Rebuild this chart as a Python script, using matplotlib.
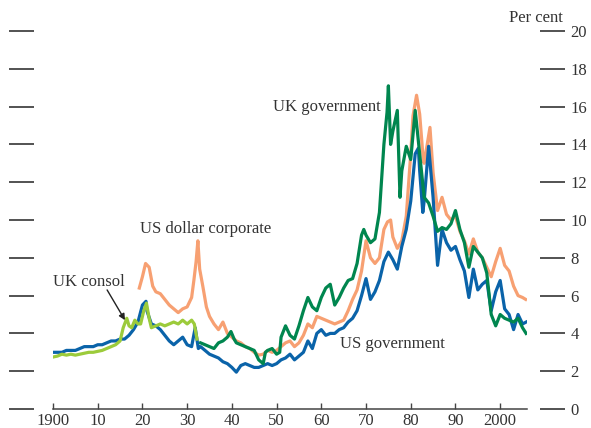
import matplotlib
matplotlib.use("Agg")
import matplotlib.pyplot as plt

# ---- data (per cent) ----
us_gov_year = [1900, 1901, 1902, 1903, 1904, 1905, 1906, 1907, 1908, 1909,
               1910, 1911, 1912, 1913, 1914, 1915, 1916, 1917, 1918, 1919,
               1920, 1920.8, 1921, 1922, 1923, 1924, 1925, 1926, 1927, 1928,
               1929, 1930, 1931, 1931.8, 1932.5, 1933, 1934, 1935, 1936, 1937,
               1938, 1939, 1940, 1941, 1942, 1943, 1944, 1945, 1946, 1947,
               1948, 1949, 1950, 1951, 1952, 1953, 1954, 1955, 1956, 1957,
               1958, 1959, 1960, 1961, 1962, 1963, 1964, 1965, 1966, 1967,
               1968, 1969, 1970, 1971, 1972, 1973, 1974, 1975, 1976, 1977,
               1978, 1979, 1980, 1981, 1981.7, 1982, 1982.7, 1983, 1984, 1985,
               1986, 1987, 1988, 1989, 1990, 1991, 1992, 1993, 1994, 1995,
               1996, 1997, 1998, 1999, 2000, 2001, 2002, 2003, 2004, 2005, 2005.8]
us_gov = [3.0, 3.0, 3.0, 3.1, 3.1, 3.1, 3.2, 3.3, 3.3, 3.3,
          3.4, 3.4, 3.5, 3.6, 3.6, 3.7, 3.7, 3.9, 4.2, 4.6,
          5.5, 5.7, 5.2, 4.5, 4.4, 4.2, 3.9, 3.6, 3.4, 3.6,
          3.8, 3.4, 3.3, 4.3, 3.2, 3.3, 3.1, 2.9, 2.8, 2.7,
          2.5, 2.4, 2.2, 1.95, 2.3, 2.4, 2.3, 2.2, 2.2, 2.3,
          2.4, 2.3, 2.4, 2.6, 2.7, 2.9, 2.6, 2.8, 3.0, 3.6,
          3.2, 4.0, 4.2, 3.9, 4.0, 4.0, 4.2, 4.3, 4.6, 4.8,
          5.2, 6.0, 6.9, 5.8, 6.2, 6.8, 7.8, 8.3, 7.9, 7.4,
          8.6, 9.5, 11.0, 13.5, 13.8, 12.6, 10.4, 11.0, 13.9, 11.2,
          7.6, 9.5, 8.8, 8.4, 8.6, 7.9, 7.3, 5.9, 7.4, 6.3,
          6.6, 6.8, 5.2, 6.2, 6.8, 5.3, 5.0, 4.2, 5.0, 4.5, 4.6]

uk_gov_year = [1933, 1934, 1935, 1936, 1937, 1938, 1939, 1939.8, 1940.5, 1941,
               1942, 1943, 1944, 1945, 1946, 1947, 1947.5, 1948, 1949, 1950,
               1950.7, 1951, 1952, 1953, 1954, 1955, 1956, 1957, 1958, 1959,
               1960, 1961, 1962, 1963, 1964, 1965, 1966, 1967, 1968, 1969,
               1969.5, 1970, 1971, 1972, 1973, 1974, 1974.7, 1975, 1975.5, 1976,
               1977, 1977.6, 1978, 1979, 1980, 1981, 1982, 1983, 1984, 1985,
               1986, 1987, 1988, 1989, 1990, 1991, 1992, 1993, 1994, 1995,
               1996, 1997, 1998, 1999, 2000, 2001, 2002, 2003, 2004, 2005, 2005.8]
uk_gov = [3.5, 3.4, 3.3, 3.2, 3.5, 3.6, 3.8, 4.1, 3.7, 3.5,
          3.4, 3.3, 3.2, 3.1, 2.6, 2.4, 3.0, 3.1, 3.2, 2.9,
          3.0, 3.8, 4.4, 3.9, 3.7, 4.4, 5.2, 5.9, 5.4, 5.2,
          5.9, 6.4, 6.6, 5.5, 5.9, 6.4, 6.8, 6.9, 7.7, 9.2,
          9.5, 9.2, 8.8, 9.0, 10.4, 14.0, 15.7, 17.1, 14.0, 14.7,
          15.8, 11.2, 12.6, 13.9, 13.2, 15.8, 13.5, 11.2, 10.9, 10.2,
          9.4, 9.6, 9.5, 9.8, 10.5, 9.5, 8.8, 7.5, 8.6, 8.3,
          8.0, 7.2, 5.0, 4.4, 5.0, 4.8, 4.7, 4.6, 4.8, 4.3, 4.0]

us_corp_year = [1919.3, 1920, 1920.7, 1921.5, 1922.3, 1923, 1924, 1925, 1926, 1927,
                1928, 1929, 1930, 1931, 1931.5, 1932, 1932.4, 1932.8, 1933.5, 1934.3,
                1935, 1936, 1937, 1938, 1939, 1940, 1941, 1942, 1943, 1944,
                1945, 1946, 1947, 1948, 1949, 1950, 1951, 1952, 1953, 1954,
                1955, 1956, 1957, 1958, 1959, 1960, 1961, 1962, 1963, 1964,
                1965, 1966, 1967, 1968, 1969, 1970, 1971, 1972, 1973, 1974,
                1974.8, 1975.5, 1976, 1977, 1978, 1979, 1980, 1980.5, 1981.3, 1982,
                1982.8, 1983, 1984.3, 1985, 1986, 1987, 1988, 1989, 1990, 1991,
                1992, 1993, 1994, 1995, 1996, 1997, 1998, 1999, 2000, 2001,
                2002, 2003, 2004, 2005, 2005.7]
us_corp = [6.4, 7.0, 7.7, 7.5, 6.5, 6.2, 6.1, 5.8, 5.5, 5.3,
           5.1, 5.3, 5.4, 5.9, 6.8, 7.8, 8.9, 7.4, 6.5, 5.4,
           4.9, 4.5, 4.2, 4.6, 4.0, 3.8, 3.6, 3.5, 3.3, 3.2,
           3.0, 2.85, 2.9, 3.1, 3.0, 3.1, 3.3, 3.5, 3.6, 3.3,
           3.5, 3.9, 4.5, 4.3, 4.9, 4.8, 4.7, 4.6, 4.5, 4.6,
           4.7, 5.2, 5.8, 6.3, 7.3, 8.9, 8.0, 7.7, 8.0, 9.5,
           9.9, 10.0, 9.1, 8.5, 8.9, 10.2, 13.5, 15.5, 16.6, 15.6,
           13.2, 13.0, 14.9, 12.5, 10.5, 11.2, 10.3, 10.0, 10.2, 9.4,
           8.9, 8.2, 9.0, 8.3, 8.0, 7.5, 7.0, 7.8, 8.5, 7.6,
           7.3, 6.5, 6.0, 5.9, 5.8]

uk_consol_year = [1900, 1901, 1902, 1903, 1904, 1905, 1906, 1907, 1908, 1909,
                  1910, 1911, 1912, 1913, 1914, 1915, 1915.7, 1916.5, 1917, 1917.6,
                  1918.3, 1919, 1919.6, 1920.3, 1920.9, 1921.5, 1922, 1923, 1924, 1925,
                  1926, 1927, 1928, 1929, 1930, 1931, 1931.6, 1932.2]
uk_consol = [2.75, 2.8, 2.9, 2.85, 2.9, 2.85, 2.9, 2.95, 3.0, 3.0,
             3.05, 3.1, 3.2, 3.3, 3.4, 3.6, 4.3, 4.8, 4.4, 4.3,
             4.7, 4.5, 4.5, 5.2, 5.6, 4.8, 4.3, 4.4, 4.5, 4.4,
             4.5, 4.6, 4.5, 4.7, 4.5, 4.7, 4.5, 3.7]

yticks = list(range(0, 21, 2))
xticks = [1900, 1910, 1920, 1930, 1940, 1950, 1960, 1970, 1980, 1990, 2000]
xlabels = ["1900", "10", "20", "30", "40", "50", "60", "70", "80", "90", "2000"]

# ---- colours / style ----
c_blue = "#0a63a9"
c_dgreen = "#00864f"
c_orange = "#f7a072"
c_lgreen = "#9ccb3b"
txt = "#333333"
tickc = "#444444"
plt.rcParams["font.family"] = ["Liberation Serif", "DejaVu Serif"]

W, H = 591, 428
fig = plt.figure(figsize=(W / 100, H / 100), dpi=100)
ax = fig.add_axes([53 / W, (H - 409) / H, (527 - 53) / W, (409 - 31) / H])

lw = 2.3
ax.plot(us_corp_year, us_corp, color=c_orange, lw=lw, solid_joinstyle="round")
ax.plot(us_gov_year, us_gov, color=c_blue, lw=lw, solid_joinstyle="round")
ax.plot(uk_gov_year, uk_gov, color=c_dgreen, lw=lw, solid_joinstyle="round")
ax.plot(uk_consol_year, uk_consol, color=c_lgreen, lw=lw, solid_joinstyle="round")

ax.set_xlim(1900, 2006)
ax.set_ylim(0, 20)

for s in ["top"]:
    ax.spines[s].set_visible(False)
ax.spines["left"].set_position(("outward", 19 * 0.72))
ax.spines["right"].set_position(("outward", 13 * 0.72))
ax.spines["left"].set_visible(False)
ax.spines["right"].set_visible(False)
ax.spines["bottom"].set_color(tickc)
ax.spines["bottom"].set_linewidth(1.1)

ax.set_yticks(yticks)
ax.set_yticklabels([str(v) for v in yticks])
ax.tick_params(axis="y", left=True, right=True, labelleft=False, labelright=True,
               direction="out", length=25 * 0.72, width=1.3, color=tickc,
               pad=4, labelsize=12, labelcolor=txt)
ax.set_xticks(xticks)
ax.set_xticklabels(xlabels)
ax.tick_params(axis="x", direction="in", length=4.5, width=1.0, color=tickc,
               pad=3, labelsize=12, labelcolor=txt)

fs = 12
ax.text(1973.2, 16.0, "UK government", ha="right", va="center", fontsize=fs, color=txt)
ax.text(1919.5, 9.5, "US dollar corporate", ha="left", va="center", fontsize=fs, color=txt)
ax.text(1900, 6.7, "UK consol", ha="left", va="center", fontsize=fs, color=txt)
ax.text(1964.2, 3.45, "US government", ha="left", va="center", fontsize=fs, color=txt)
ax.annotate("", xy=(1916.1, 4.7), xytext=(1912.1, 6.3),
            arrowprops=dict(arrowstyle="-|>", color="#222222", lw=1.0,
                            mutation_scale=9, shrinkA=0, shrinkB=0))
fig.text(563 / W, 1 - 18 / H, "Per cent", ha="right", va="center", fontsize=fs, color=txt)

fig.savefig("out.png", dpi=100)
